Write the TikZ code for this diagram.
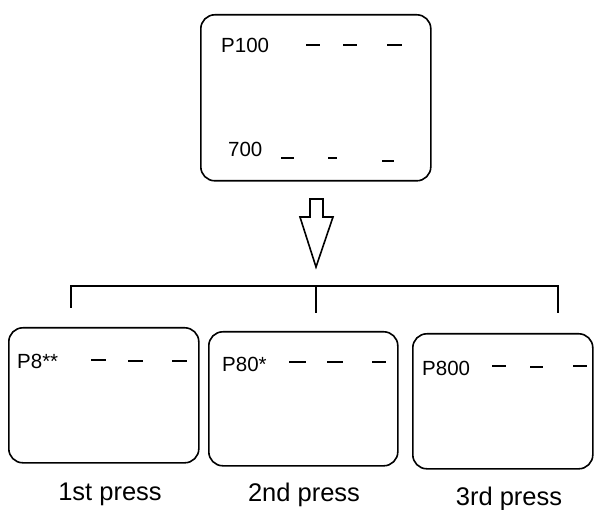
\documentclass[tikz,border=0pt]{standalone}
\usepackage{fontspec}
\setmainfont{Liberation Sans}
\usetikzlibrary{positioning}

\begin{document}
\begin{tikzpicture}[
  x=1pt, y=-1pt,
  panel/.style={draw, line width=1.6pt, rounded corners=14pt, anchor=north west, inner sep=0pt},
  lbl/.style={font=\fontsize{20.5}{24}\selectfont, anchor=west, inner sep=0pt},
  presslbl/.style={font=\fontsize{25.5}{30}\selectfont, anchor=base, inner sep=0pt},
  tick/.style={line width=1.6pt},
  link/.style={line width=1.6pt}
]
\useasboundingbox (0,0) rectangle (594,510);

% panels
\node[panel, minimum width=230pt, minimum height=166pt] (top) at (200,14) {};
\node[panel, minimum width=190pt, minimum height=135pt] (first) at (8,327) {};
\node[panel, minimum width=189pt, minimum height=134pt] (second) at (208,331) {};
\node[panel, minimum width=180pt, minimum height=135pt] (third) at (412,333) {};

% band labels
\node[lbl] (p100) at (221,45) {P100};
\node[lbl] (t700) at (228,149) {700};
\node[lbl] (p8) at (17,361) {P8**};
\node[lbl] (p80) at (222,364) {P80*};
\node[lbl] (p800) at (422,368) {P800};

% bands
\foreach \xa/\xb/\yy in {306/320/45, 343/357/45, 387/402/45,
                         281/294/158, 328/337/158, 382/394/161,
                         91/106/360, 128/143/361, 172/187/361,
                         289/306/362, 327/343/362, 372/386/362,
                         492/506/366, 530/543/367, 573/587/366}
  \draw[tick] (\xa,\yy) -- (\xb,\yy);

% open arrow
\coordinate (flowtop) at (316.5,199);
\draw[link, line join=miter] (flowtop) ++(-6.5,0) -- ++(13,0) -- ++(0,18) -- ++(10,0)
  -- (316,267) -- (300,217) -- ++(10,0) -- cycle;

% bracket
\coordinate (barL) at (71,286);
\coordinate (barM) at (316,286);
\coordinate (barR) at (558,286);
\coordinate (dropL) at (71,308);
\coordinate (dropM) at (316,313);
\coordinate (dropR) at (558,313);
\draw[link] (dropL) -- (barL) -- (barR) -- (dropR);
\draw[link] (barM) -- (dropM);

% captions
\node[presslbl] (c1) at (110,500) {1st press};
\node[presslbl] (c2) at (304,501) {2nd press};
\node[presslbl] (c3) at (509,505) {3rd press};
\end{tikzpicture}
\end{document}
